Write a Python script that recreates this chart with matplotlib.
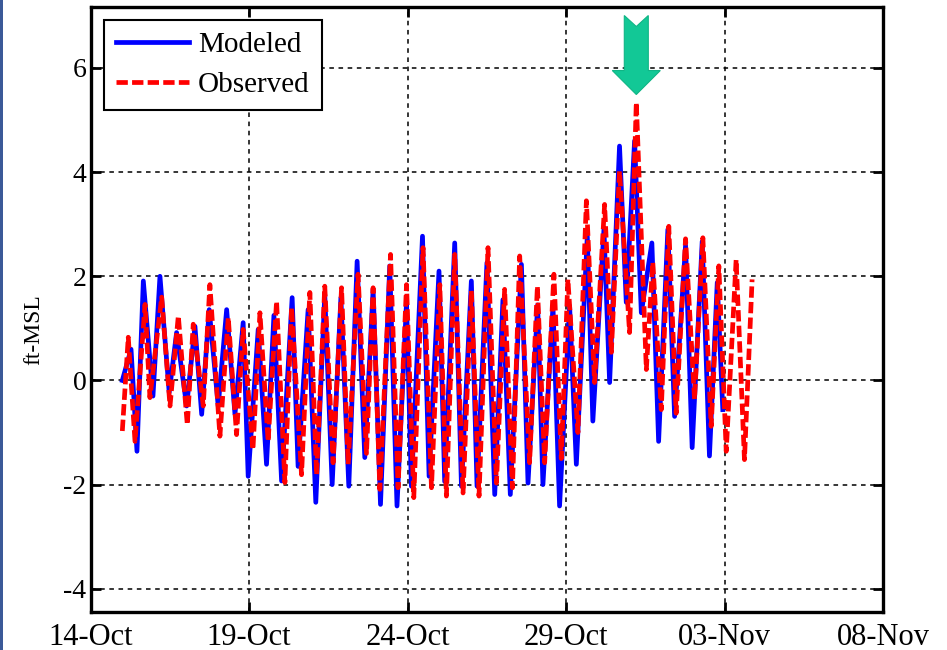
import numpy as np
import pandas as pd
import matplotlib
matplotlib.use('Agg')
import matplotlib.pyplot as plt
import matplotlib.dates as mdates
from matplotlib.patches import Polygon, Rectangle

plt.rcParams['font.family'] = ['Liberation Serif', 'DejaVu Serif']
plt.rcParams['axes.unicode_minus'] = False

# tide extrema, hours after 14-Oct 00:00 and ft-MSL
model_hours = [24.0, 30.6, 35.1, 39.9, 47.2, 52.5, 59.5, 65.1, 72.7, 79.0, 84.1, 89.8,
               96.6, 103.0, 109.3, 115.5, 119.3, 126.9, 133.2, 138.8, 144.6, 152.6,
               157.1, 164.7, 170.5, 177.3, 182.9, 189.5, 195.5, 201.8, 207.6, 213.9,
               219.5, 226.5, 232.0, 239.2, 242.9, 251.3, 256.3, 263.8, 268.1, 275.7,
               280.8, 288.3, 292.6, 300.1, 306.0, 312.2, 317.8, 326.2, 331.2, 338.5,
               342.5, 350.1, 355.1, 362.7, 367.8, 376.1, 380.3, 388.7, 393.0, 400.5,
               405.6, 411.9, 417.0, 425.0, 430.1, 437.1, 442.2, 450.5, 455.5, 463.1,
               468.6, 474.5, 478.7]
model_ft = [0.0, 0.6, -1.36, 1.91, -0.3, 2.0, -0.23, 0.92, -0.49, 1.04, -0.65, 1.36,
            -0.49, 1.36, -0.65, 1.11, -1.84, 0.98, -1.61, 1.25, -1.93, 1.59,
            -1.65, 1.36, -2.34, 1.65, -2.0, 1.59, -2.03, 2.29, -1.48, 1.75,
            -2.38, 2.2, -2.41, 1.5, -2.03, 2.77, -1.84, 2.1, -1.94, 2.64,
            -2.03, 1.91, -2.03, 2.26, -2.19, 1.55, -2.19, 2.23, -1.97, 1.45,
            -2.0, 1.43, -2.41, 1.43, -1.61, 2.77, -0.78, 2.9, -0.04, 4.5,
            1.5, 4.6, 1.3, 2.64, -1.17, 2.9, -0.69, 2.6, -1.29, 2.67,
            -1.45, 1.88, -0.56]

obs_hours = [24.0, 28.5, 33.6, 41.2, 44.9, 53.8, 60.1, 66.4, 73.2, 77.7, 85.3, 90.3,
             97.9, 104.2, 110.5, 115.5, 122.9, 128.2, 134.4, 140.8, 147.1, 152.2,
             159.7, 166.0, 171.1, 177.3, 183.6, 190.0, 195.0, 202.5, 208.9, 213.9,
             219.0, 227.1, 232.8, 239.2, 244.7, 251.7, 258.1, 264.4, 269.4, 275.7,
             282.0, 288.3, 294.1, 300.9, 307.3, 313.5, 319.4, 324.9, 332.4, 338.3,
             343.8, 350.8, 356.4, 361.4, 369.0, 375.4, 381.6, 389.2, 394.3, 400.5,
             408.1, 413.2, 420.8, 425.7, 432.1, 437.8, 443.4, 450.5, 457.3, 463.6,
             469.9, 475.7, 481.3, 488.8, 495.1, 500.9]
obs_ft = [-0.97, 0.83, -1.17, 1.46, -0.33, 1.6, -0.49, 1.24, -0.85, 1.08, -0.49, 1.84,
          -1.07, 1.21, -1.04, 0.98, -1.33, 1.3, -1.17, 1.52, -1.96, 1.4,
          -1.81, 1.69, -1.81, 1.81, -1.58, 1.78, -1.61, 2.04, -1.4, 1.78,
          -2.09, 2.42, -2.06, 1.84, -2.25, 2.55, -2.06, 1.84, -2.22, 2.42,
          -2.16, 1.72, -2.22, 2.55, -1.97, 1.75, -2.06, 2.39, -1.58, 1.81,
          -1.58, 2.04, -1.5, 1.94, -1.0, 3.45, -0.04, 3.38, 0.54, 4.02,
          0.92, 5.34, 0.21, 2.27, -0.56, 2.96, -0.63, 2.72, -0.36, 2.74,
          -0.88, 2.2, -1.36, 2.32, -1.52, 1.94]

y_ticks = [-4, -2, 0, 2, 4, 6]
start = pd.Timestamp('2012-10-14')
x_ticks = pd.date_range(start, periods=6, freq='5D')

t_model = start + pd.to_timedelta(model_hours, unit='h')
t_obs = start + pd.to_timedelta(obs_hours, unit='h')

fig = plt.figure(figsize=(9.47, 6.5), dpi=100)
ax = fig.add_axes([0.0957, 0.0589, 0.8367, 0.9303])

ax.plot(t_model, model_ft, color='#0000ff', lw=3.4, label='Modeled')
ax.plot(t_obs, obs_ft, color='#ff0000', lw=3.4, ls=(0, (2.4, 0.9)), label='Observed')

ax.set_xlim(start, start + pd.Timedelta(days=25))
ax.set_ylim(-4.44, 7.17)
ax.set_yticks(y_ticks)
ax.set_xticks(x_ticks)
ax.xaxis.set_major_formatter(mdates.DateFormatter('%d-%b'))

ax.grid(True, color='black', ls=(0, (3, 3)), lw=1.1)
ax.tick_params(direction='in', length=7, width=2, top=True, right=True)
ax.tick_params(axis='x', labelsize=22, pad=8)
ax.tick_params(axis='y', labelsize=20, pad=3)
for s in ax.spines.values():
    s.set_linewidth(2.4)

ax.set_ylabel('ft-MSL', fontsize=17)
ax.yaxis.set_label_coords(-0.058, 0.466)

leg = ax.legend(loc='upper left', bbox_to_anchor=(0.017, 0.979), borderaxespad=0,
                fontsize=21, fancybox=False, edgecolor='black', framealpha=1,
                handlelength=2.5, handletextpad=0.3, borderpad=0.42, labelspacing=0.45)
leg.get_frame().set_linewidth(1.5)

# green arrow pointing at the observed peak
fig.canvas.draw()
i = int(np.argmax(obs_ft))
tip = ax.transData.transform((mdates.date2num(t_obs[i]), obs_ft[i] + 0.15))
W, H = fig.bbox.width, fig.bbox.height
pts = [(0, 0), (-24, 24), (-12, 24), (-12, 79), (0, 68), (12, 79), (12, 24), (24, 24)]
poly = [((tip[0] + dx) / W, (tip[1] + dy) / H) for dx, dy in pts]
fig.patches.append(Polygon(poly, closed=True, transform=fig.transFigure,
                           facecolor='#12c896', edgecolor='#0fb585', lw=0.8, zorder=5))

# slide border strip
fig.patches.append(Rectangle((0, 0), 3 / W, 1, transform=fig.transFigure,
                             facecolor='#3b5998', edgecolor='none'))

fig.savefig('out.png', dpi=100)
